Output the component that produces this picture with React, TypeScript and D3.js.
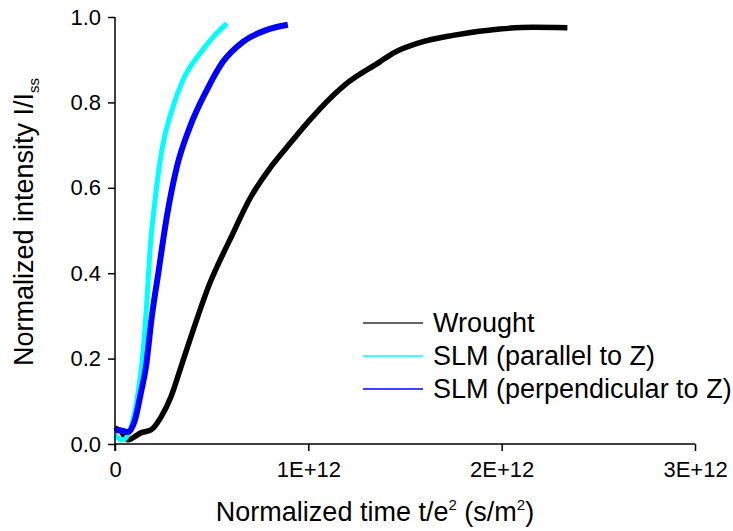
import * as d3 from 'd3';
import React, { useEffect, useRef } from 'react';

// normalized time t/e^2 in units of 1E+12 s/m^2, intensity I/Iss
const wroughtT = [0, 0.03, 0.067, 0.134, 0.186, 0.238, 0.289, 0.341, 0.403, 0.491, 0.543, 0.594, 0.698, 0.8, 0.889, 1.0, 1.06, 1.2, 1.37, 1.437, 1.576, 1.747, 1.99, 2.16, 2.34];
const wroughtI = [0.037, 0.03, 0.01, 0.026, 0.033, 0.063, 0.11, 0.18, 0.265, 0.377, 0.43, 0.478, 0.575, 0.645, 0.695, 0.755, 0.785, 0.845, 0.895, 0.915, 0.94, 0.957, 0.972, 0.976, 0.975];

const parallelT = [0, 0.04, 0.083, 0.119, 0.146, 0.164, 0.181, 0.207, 0.242, 0.294, 0.351, 0.44, 0.507, 0.578];
const parallelI = [0.02, 0.01, 0.04, 0.12, 0.22, 0.33, 0.454, 0.571, 0.688, 0.782, 0.852, 0.915, 0.953, 0.985];

const perpT = [0, 0.015, 0.067, 0.103, 0.134, 0.16, 0.19, 0.224, 0.268, 0.32, 0.387, 0.475, 0.558, 0.662, 0.785, 0.894];
const perpI = [0.03, 0.033, 0.028, 0.056, 0.12, 0.18, 0.297, 0.4, 0.532, 0.649, 0.742, 0.829, 0.895, 0.942, 0.97, 0.982];

const seriesNames = ['Wrought', 'SLM (parallel to Z)', 'SLM (perpendicular to Z)'];
const seriesColors = ['#000000', '#00ffff', '#0000ff'];
const xTicks = [0, 1, 2, 3];
const xTickLabels = ['0', '1E+12', '2E+12', '3E+12'];
const yTicks = [0, 0.2, 0.4, 0.6, 0.8, 1.0];

const FONT = '"Liberation Sans", Arial, sans-serif';

const App = () => {
  const ref = useRef<SVGSVGElement>(null);

  useEffect(() => {
    const svg = d3.select(ref.current);
    svg.selectAll('*').remove();

    const x = d3.scaleLinear().domain([0, 3]).range([115, 695]);
    const y = d3.scaleLinear().domain([0, 1]).range([444, 17]);

    const series = [
      { t: wroughtT, v: wroughtI, w: 5.5 },
      { t: parallelT, v: parallelI, w: 5 },
      { t: perpT, v: perpI, w: 6 },
    ];

    const line = d3.line<[number, number]>()
      .x(d => x(d[0]))
      .y(d => y(d[1]))
      .curve(d3.curveMonotoneX);

    series.forEach((s, i) => {
      const pts = s.t.map((t, j) => [t, s.v[j]] as [number, number]);
      svg.append('path')
        .attr('d', line(pts))
        .attr('fill', 'none')
        .attr('stroke', seriesColors[i])
        .attr('stroke-width', s.w)
        .attr('stroke-linejoin', 'round');
    });

    // x axis
    const xAxis = svg.append('g')
      .attr('transform', 'translate(0,444)')
      .call(d3.axisBottom(x).tickValues(xTicks).tickSize(7).tickFormat((d, i) => xTickLabels[i]));
    xAxis.select('.domain').attr('stroke', '#000').attr('stroke-width', 1.5).attr('d', 'M115,0H695');
    xAxis.selectAll('line').attr('stroke', '#000').attr('stroke-width', 1.5);
    xAxis.selectAll('text')
      .attr('font-family', FONT).attr('font-size', 22).attr('fill', '#000')
      .attr('dy', null).attr('y', 33);

    // y axis
    const yAxis = svg.append('g')
      .attr('transform', 'translate(115,0)')
      .call(d3.axisLeft(y).tickValues(yTicks).tickSize(7).tickFormat(d3.format('.1f')));
    yAxis.select('.domain').attr('stroke', '#000').attr('stroke-width', 1.5).attr('d', 'M0,17V451');
    yAxis.selectAll('line').attr('stroke', '#000').attr('stroke-width', 1.5);
    yAxis.selectAll('text')
      .attr('font-family', FONT).attr('font-size', 22).attr('fill', '#000')
      .attr('x', -14);

    // axis titles
    const xt = svg.append('text')
      .attr('x', 375).attr('y', 521)
      .attr('text-anchor', 'middle')
      .attr('font-family', FONT).attr('font-size', 27).attr('fill', '#000');
    xt.append('tspan').text('Normalized time t/e');
    xt.append('tspan').attr('font-size', 15).attr('dy', -11).text('2');
    xt.append('tspan').attr('dy', 11).text(' (s/m');
    xt.append('tspan').attr('font-size', 15).attr('dy', -11).text('2');
    xt.append('tspan').attr('dy', 11).text(')');

    const yt = svg.append('text')
      .attr('transform', 'translate(33,222) rotate(-90)')
      .attr('text-anchor', 'middle')
      .attr('font-family', FONT).attr('font-size', 27).attr('fill', '#000');
    yt.append('tspan').text('Normalized intensity I/I');
    yt.append('tspan').attr('font-size', 15).attr('dy', 6).text('ss');

    // legend
    const legend = svg.append('g');
    seriesNames.forEach((name, i) => {
      const ly = 323 + i * 33;
      legend.append('line')
        .attr('x1', 363).attr('x2', 423).attr('y1', ly).attr('y2', ly)
        .attr('stroke', i === 0 ? '#333' : seriesColors[i]).attr('stroke-width', 1.5);
      legend.append('text')
        .attr('x', 433).attr('y', ly + 9)
        .attr('font-family', FONT).attr('font-size', 27).attr('fill', '#000')
        .text(name);
    });
  }, []);

  return (
    <svg ref={ref} width={733} height={531} style={{ position: 'absolute', left: 0, top: 0, background: '#fff' }}></svg>
  );
};

export default App;
